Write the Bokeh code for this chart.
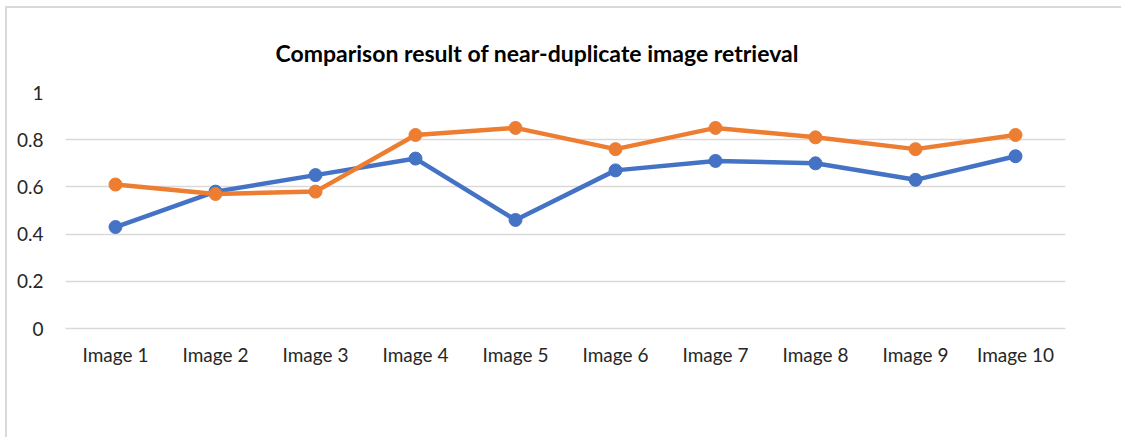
from bokeh.plotting import figure
from bokeh.models import (ColumnDataSource, FactorRange, Range1d, Legend, LegendItem,
                          FixedTicker, Title)
from bokeh.embed import file_html
from bokeh.resources import INLINE

categories = ["Image 1", "Image 2", "Image 3", "Image 4", "Image 5",
              "Image 6", "Image 7", "Image 8", "Image 9", "Image 10"]
bovw = [0.43, 0.58, 0.65, 0.72, 0.46, 0.67, 0.71, 0.70, 0.63, 0.73]
pca = [0.61, 0.57, 0.58, 0.82, 0.85, 0.76, 0.85, 0.81, 0.76, 0.82]
series_names = ["Bag of Visual Word & K-Mean Clustering", "Principal Component Analysis"]
y_ticks = [0, 0.2, 0.4, 0.6, 0.8, 1]
title_text = "Comparison result of near-duplicate image retrieval"

FONT = "Lato"
BLUE = "#4472C4"
ORANGE = "#ED7D31"
TXT = "#262626"

p = figure(x_range=FactorRange(*categories, range_padding=0), y_range=Range1d(0, 1),
           width=1114, height=429, frame_width=1000, frame_height=236,
           output_backend="svg", toolbar_location=None,
           min_border_left=58, min_border_right=56, min_border_top=84, min_border_bottom=0)
p.margin = (6, 0, 0, 5)
p.title = None
p.outline_line_color = None
p.background_fill_color = "white"
p.border_fill_color = "white"
p.styles = {"border-top": "2px solid #d9d9d9", "border-left": "2px solid #d9d9d9"}

src = ColumnDataSource(dict(x=categories, a=bovw, b=pca))
la = p.line("x", "a", source=src, line_color=BLUE, line_width=4.5)
ca = p.scatter("x", "a", source=src, size=13, fill_color=BLUE, line_color=BLUE)
lb = p.line("x", "b", source=src, line_color=ORANGE, line_width=4.5)
cb = p.scatter("x", "b", source=src, size=13, fill_color=ORANGE, line_color=ORANGE)

# axes
p.yaxis.ticker = FixedTicker(ticks=y_ticks)
p.yaxis.major_label_overrides = {0: "0", 0.2: "0.2", 0.4: "0.4", 0.6: "0.6", 0.8: "0.8", 1: "1"}
p.yaxis.axis_line_color = None
p.yaxis.major_tick_line_color = None
p.yaxis.minor_tick_line_color = None
p.yaxis.major_label_text_font = FONT
p.yaxis.major_label_text_font_size = "19px"
p.yaxis.major_label_text_color = TXT
p.yaxis.major_label_standoff = 16

p.xaxis.axis_line_color = "#d9d9d9"
p.xaxis.axis_line_width = 1.5
p.xaxis.major_tick_line_color = None
p.xaxis.minor_tick_line_color = None
p.xaxis.major_label_text_font = FONT
p.xaxis.major_label_text_font_size = "19px"
p.xaxis.major_label_text_color = TXT
p.xaxis.major_label_standoff = 8

p.xgrid.grid_line_color = None
p.ygrid.grid_line_color = "#d9d9d9"
p.ygrid.grid_line_width = 1.5

title = Title(text=title_text, align="left", offset=210, standoff=52,
              text_font=FONT, text_font_size="23px", text_font_style="bold",
              text_color="black")
p.add_layout(title, "above")

legend = Legend(items=[LegendItem(label=series_names[0], renderers=[la, ca]),
                       LegendItem(label=series_names[1], renderers=[lb, cb])],
                orientation="horizontal", location="center",
                label_text_font=FONT, label_text_font_size="19px", label_text_color=TXT,
                glyph_width=50, glyph_height=20, spacing=48, label_standoff=4,
                border_line_color=None, background_fill_alpha=0,
                margin=0, padding=0)
p.add_layout(legend, "below")

open("out.html", "w").write(file_html(p, INLINE))
